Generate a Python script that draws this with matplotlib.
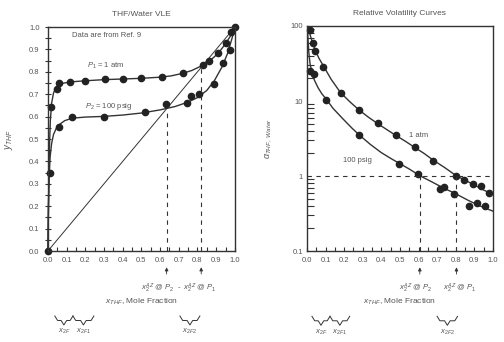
import matplotlib
matplotlib.use("Agg")
import matplotlib.pyplot as plt
from matplotlib.ticker import MultipleLocator, FixedLocator, NullFormatter

plt.rcParams['font.family'] = ['Liberation Sans Narrow', 'Liberation Sans', 'DejaVu Sans']
plt.rcParams['mathtext.fontset'] = 'custom'
plt.rcParams['mathtext.it'] = 'Liberation Sans:italic'
plt.rcParams['mathtext.rm'] = 'Liberation Sans'

ink = '#333333'
txt = '#555555'

# --- left panel: VLE data (x_THF, y_THF)
x_p1 = [0.018, 0.048, 0.062, 0.12, 0.20, 0.305, 0.40, 0.50, 0.61, 0.72, 0.83, 0.86, 0.91, 0.955, 0.98, 1.0]
y_p1 = [0.645, 0.722, 0.749, 0.755, 0.761, 0.769, 0.769, 0.773, 0.776, 0.794, 0.831, 0.849, 0.884, 0.928, 0.976, 1.0]
x_p2 = [0.0, 0.01, 0.059, 0.13, 0.30, 0.52, 0.63, 0.746, 0.764, 0.81, 0.89, 0.934, 0.973]
y_p2 = [0.0, 0.35, 0.555, 0.597, 0.598, 0.622, 0.655, 0.66, 0.69, 0.70, 0.746, 0.839, 0.896]

# smooth curves
cx_p1 = [0.0, 0.004, 0.008, 0.013, 0.02, 0.03, 0.04, 0.055, 0.075, 0.12, 0.2, 0.3, 0.4, 0.5, 0.6, 0.66,
         0.72, 0.77, 0.82, 0.87, 0.91, 0.95, 0.98, 1.0]
cy_p1 = [0.0, 0.25, 0.45, 0.58, 0.66, 0.705, 0.725, 0.740, 0.748, 0.755, 0.760, 0.765, 0.768, 0.771, 0.776,
         0.782, 0.793, 0.806, 0.826, 0.852, 0.882, 0.925, 0.965, 1.0]
cx_p2 = [0.0, 0.003, 0.007, 0.012, 0.02, 0.03, 0.045, 0.065, 0.09, 0.13, 0.2, 0.3, 0.4, 0.5, 0.6, 0.68,
         0.75, 0.8, 0.85, 0.89, 0.93, 0.96, 0.985, 1.0]
cy_p2 = [0.0, 0.2, 0.33, 0.42, 0.48, 0.52, 0.548, 0.567, 0.582, 0.593, 0.598, 0.601, 0.607, 0.616, 0.630,
         0.645, 0.665, 0.685, 0.717, 0.76, 0.82, 0.88, 0.95, 1.0]
x_az = [0.635, 0.82]

# --- right panel: relative volatility
xa_1 = [0.014, 0.03, 0.046, 0.089, 0.182, 0.282, 0.382, 0.477, 0.582, 0.68, 0.80, 0.845, 0.893, 0.9375, 0.979]
a_1 = [89, 59, 46, 28, 12.8, 7.66, 5.09, 3.48, 2.44, 1.58, 1.0, 0.89, 0.79, 0.74, 0.60]
xa_2 = [0.014, 0.039, 0.104, 0.279, 0.496, 0.595, 0.718, 0.739, 0.789, 0.871, 0.916, 0.955]
a_2 = [25, 22.7, 10.2, 3.48, 1.46, 1.07, 0.68, 0.71, 0.57, 0.40, 0.44, 0.40]

cxa_1 = [0.005, 0.012, 0.02, 0.03, 0.045, 0.065, 0.09, 0.13, 0.18, 0.23, 0.28, 0.33, 0.38, 0.43, 0.48,
         0.53, 0.58, 0.63, 0.68, 0.74, 0.8, 0.85, 0.9, 0.95, 1.0]
ca_1 = [100, 85, 72, 60, 47, 37, 29, 19.5, 13, 9.8, 7.6, 6.1, 5.0, 4.15, 3.45, 2.9, 2.4, 2.0, 1.62,
        1.3, 1.02, 0.88, 0.76, 0.65, 0.57]
cxa_2 = [0.002, 0.005, 0.01, 0.017, 0.027, 0.04, 0.06, 0.08, 0.105, 0.14, 0.19, 0.24, 0.28, 0.34, 0.4,
         0.45, 0.5, 0.55, 0.61, 0.67, 0.73, 0.8, 0.87, 0.93, 1.0]
ca_2 = [100, 70, 45, 31, 24, 19, 15, 12.5, 10.5, 8.0, 5.9, 4.4, 3.55, 2.65, 2.05, 1.72, 1.46, 1.24, 1.0,
        0.84, 0.70, 0.58, 0.47, 0.40, 0.34]
x_az_a = [0.607, 0.804]

fig = plt.figure(figsize=(5.04, 3.42), dpi=100)
axL = fig.add_axes([0.095, 0.266, 0.371, 0.655])
axR = fig.add_axes([0.609, 0.266, 0.369, 0.658])


def style(ax):
    for s in ax.spines.values():
        s.set_color(ink)
        s.set_linewidth(1.0)
    ax.set_xlim(0, 1)
    ax.xaxis.set_major_locator(MultipleLocator(0.1))
    ax.xaxis.set_minor_locator(MultipleLocator(0.05))
    ax.tick_params(axis='x', which='both', direction='in', length=3, width=0.8, color=ink,
                   labelsize=5.5, labelcolor=txt, pad=4)
    ax.tick_params(axis='y', labelsize=5.5, labelcolor=txt)
    ax.xaxis.set_major_formatter(matplotlib.ticker.FormatStrFormatter('%.1f'))


def brace(ax, x0, x1, yb, label):
    tr = ax.get_xaxis_transform()
    xm = (x0 + x1) / 2
    h = 0.02
    d = 0.015
    ax.plot([x0, x0 + d, xm - d, xm, xm + d, x1 - d, x1],
            [yb + h, yb, yb, yb - h, yb, yb, yb + h],
            transform=tr, clip_on=False, color=ink, lw=0.7)
    ax.text(xm, yb - 0.05, label, transform=tr, ha='center', va='center', fontsize=5.5, color=txt)


def bottom_notes(ax, xs, texts):
    tr = ax.get_xaxis_transform()
    for x in xs:
        ax.annotate('', xy=(x, -0.06), xytext=(x, -0.115), xycoords=tr, textcoords=tr,
                    arrowprops=dict(arrowstyle='-|>', color=ink, lw=0.6, mutation_scale=5))
    for x, t, ha in texts:
        ax.text(x, -0.165, t, transform=tr, ha=ha, va='center', fontsize=5.5, color=txt)
    ax.text(0.5, -0.228, r'$x_{THF}$, Mole Fraction', transform=tr, ha='center', va='center',
            fontsize=6, color=txt)


# ---------------- left panel
style(axL)
axL.set_ylim(0, 1)
axL.yaxis.set_major_locator(MultipleLocator(0.1))
axL.yaxis.set_minor_locator(MultipleLocator(0.05))
axL.tick_params(axis='y', which='both', direction='inout', length=5, width=0.8, color=ink)
axL.yaxis.set_major_formatter(matplotlib.ticker.FormatStrFormatter('%.1f'))

axL.plot([0, 1], [0, 1], color=ink, lw=0.7)
axL.plot(cx_p1, cy_p1, color=ink, lw=1.0, clip_on=False)
axL.plot(cx_p2, cy_p2, color=ink, lw=1.0, clip_on=False)
axL.plot(x_p1, y_p1, 'o', color='#222222', ms=4.5, clip_on=False)
axL.plot(x_p2, y_p2, 'o', color='#222222', ms=4.5, clip_on=False)
for x in x_az:
    axL.plot([x, x], [0, x], color=ink, lw=0.8, ls=(0, (4, 4)))

axL.set_title('THF/Water VLE', fontsize=6, color=txt, pad=8)
axL.set_ylabel(r'$y_{THF}$', fontsize=7, color=txt, labelpad=10)
axL.text(0.13, 0.964, 'Data are from Ref. 9', fontsize=5.5, color=txt, va='center')
axL.text(0.21, 0.826, r'$P_1$ = 1 atm', fontsize=5.5, color=txt, va='center')
axL.text(0.20, 0.643, r'$P_2$ = 100 psig', fontsize=5.5, color=txt, va='center')

bottom_notes(axL, x_az, [(0.675, r'$x_2^{AZ}$ @ $P_2$', 'right'), (0.70, '-', 'center'),
                         (0.725, r'$x_2^{AZ}$ @ $P_1$', 'left')])
brace(axL, 0.037, 0.134, -0.31, r'$x_{2F}$')
brace(axL, 0.134, 0.246, -0.31, r'$x_{2F1}$')
brace(axL, 0.706, 0.813, -0.31, r'$x_{2F2}$')

# ---------------- right panel
style(axR)
axR.set_yscale('log')
axR.set_ylim(0.1, 100)
axR.yaxis.set_major_locator(FixedLocator([0.1, 1, 10, 100]))
axR.yaxis.set_major_formatter(matplotlib.ticker.FixedFormatter(['0.1', '1', '10', '100']))
axR.yaxis.set_minor_formatter(NullFormatter())
axR.tick_params(axis='y', which='major', direction='in', length=0, pad=3)
axR.tick_params(axis='y', which='minor', direction='in', length=5, width=0.8, color=ink)

axR.plot(cxa_1, ca_1, color=ink, lw=1.0)
axR.plot(cxa_2, ca_2, color=ink, lw=1.0)
axR.plot(xa_1, a_1, 'o', color='#222222', ms=4.5, clip_on=False)
axR.plot(xa_2, a_2, 'o', color='#222222', ms=4.5, clip_on=False)
axR.plot([0, 1], [1, 1], color=ink, lw=0.8, ls=(0, (4, 4)))
for x in x_az_a:
    axR.plot([x, x], [0.1, 1], color=ink, lw=0.8, ls=(0, (4, 4)))

axR.set_title('Relative Volatility Curves', fontsize=6, color=txt, pad=8)
axR.set_ylabel(r'$\alpha_{THF,\ Water}$', fontsize=6.5, color=txt, labelpad=12)
axR.text(0.6, 3.5, '1 atm', fontsize=5.5, color=txt, ha='center', va='center')
axR.text(0.27, 1.63, '100 psig', fontsize=5.5, color=txt, ha='center', va='center')

bottom_notes(axR, x_az_a, [(0.585, r'$x_2^{AZ}$ @ $P_2$', 'center'), (0.82, r'$x_2^{AZ}$ @ $P_1$', 'center')])
brace(axR, 0.027, 0.124, -0.31, r'$x_{2F}$')
brace(axR, 0.124, 0.23, -0.31, r'$x_{2F1}$')
brace(axR, 0.70, 0.81, -0.31, r'$x_{2F2}$')

fig.savefig('out.png', dpi=100, facecolor='white')
